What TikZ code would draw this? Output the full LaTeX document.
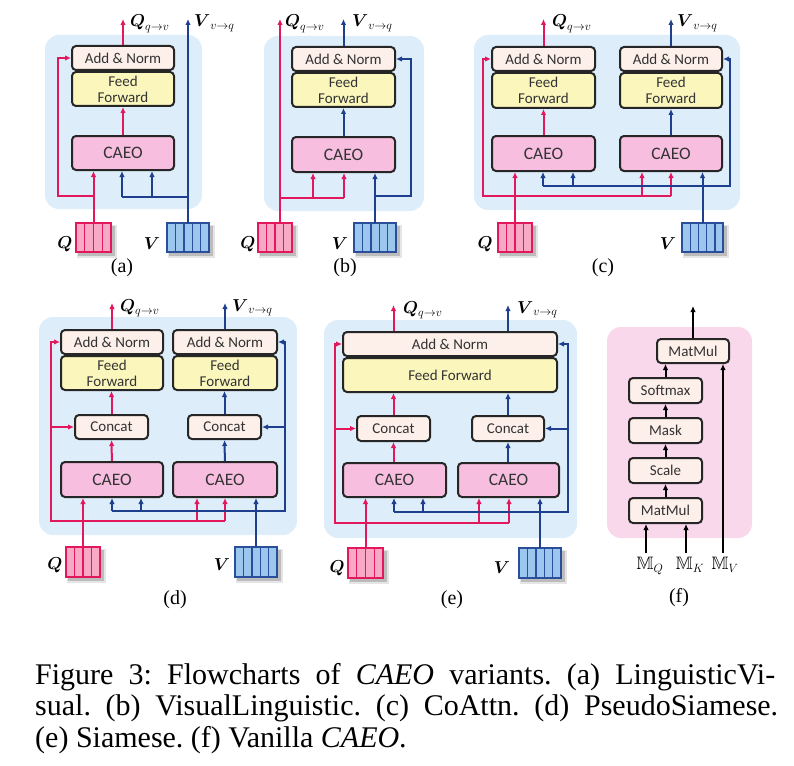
\documentclass[tikz,border=0pt]{standalone}
\usepackage{amsmath,amssymb}
\usepackage{fontspec}
\setmainfont{Liberation Serif}
\setsansfont{Carlito}
\usetikzlibrary{arrows.meta}
\definecolor{bgb}{HTML}{DEEDFA}
\definecolor{bgp}{HTML}{F9D8EC}
\definecolor{anf}{HTML}{FDEFE9}
\definecolor{fff}{HTML}{FAF6BC}
\definecolor{caf}{HTML}{F7BEE0}
\definecolor{myred}{HTML}{E3175B}
\definecolor{myblue}{HTML}{1E3F8E}
\definecolor{tokred}{HTML}{F7A9C5}
\definecolor{tokblue}{HTML}{9BC7EE}
\definecolor{tokbluel}{HTML}{2B4E9A}
\newcommand{\bx}[7]{\node[#6, minimum width={(#4)-(#2)}, minimum height={(#5)-(#3)}] (#1) at ({((#2)+(#4))/2},{((#3)+(#5))/2}) {#7};}
\newcommand{\tok}[8]{%
  \fill[black,opacity=.10] ({(#2)+1},{(#3)+2}) rectangle ({(#4)+6},{(#5)+6});
  \fill[black,opacity=.18] ({(#2)+2},{(#3)+3}) rectangle ({(#4)+3.5},{(#5)+3.5});
  \pgfmathsetmacro\tokw{((#4)-(#2))/(#6)}
  \foreach \i in {1,...,#6} {\draw[draw=#7, fill=#8, line width=1.4pt] ({(#2)+(\i-1)*\tokw},#3) rectangle ({(#2)+\i*\tokw},#5);}
  \node[inner sep=0pt, minimum width={(#4)-(#2)}, minimum height={(#5)-(#3)}] (#1) at ({((#2)+(#4))/2},{((#3)+(#5))/2}) {};
}
\tikzset{
  blk/.style={draw=black!85, line width=2pt, rounded corners=4pt, inner sep=0pt, text=black!80, font=\sffamily\fontsize{15}{16}\selectfont},
  anbox/.style={blk, fill=anf},
  ffbox/.style={blk, fill=fff, align=center},
  cabox/.style={blk, fill=caf, font=\sffamily\fontsize{17.5}{18}\selectfont},
  bgbox/.style={fill=bgb, rounded corners=14pt, inner sep=0pt},
  bgpink/.style={fill=bgp, rounded corners=14pt, inner sep=0pt},
  rl/.style={draw=myred, line width=2pt},
  ra/.style={rl, -{Latex[length=6pt,width=5.5pt]}},
  bl/.style={draw=myblue, line width=2pt},
  ba/.style={bl, -{Latex[length=6pt,width=5.5pt]}},
  ka/.style={draw=black, line width=2pt, -{Latex[length=6pt,width=5.5pt]}},
  lab/.style={font=\fontsize{18}{18}\selectfont, inner sep=0pt},
  mlab/.style={font=\fontsize{18}{18}\selectfont, inner sep=0pt},
  plab/.style={font=\fontsize{20}{20}\selectfont, inner sep=0pt},
  captxt/.style={font=\fontsize{30}{31}\selectfont, inner sep=0pt, anchor=base west},
}
\begin{document}
\frenchspacing
\begin{tikzpicture}[x=1pt,y=-1pt]
\useasboundingbox (0,0) rectangle (794,765);
% ================= (a)
\bx{bgA}{45}{35}{202}{209}{bgbox}{}
\bx{anA}{72}{46}{174}{70}{anbox}{Add \& Norm}
\bx{ffA}{72}{72}{174}{106}{ffbox}{Feed\\Forward}
\bx{caA}{72}{136}{174}{170}{cabox}{CAEO}
\tok{qtA}{76}{223}{111}{252}{4}{myred}{tokred}
\tok{vtA}{167}{223}{209}{252}{5}{tokbluel}{tokblue}
\node[lab] (QA) at (65,244) {$\boldsymbol{Q}$};
\node[lab] (VA) at (152,244) {$\boldsymbol{V}$};
\node[lab, anchor=base west] (qoA) at (130,27) {$\boldsymbol{Q}_{q\to v}$};
\node[lab, anchor=base west] (voA) at (194,27) {$\boldsymbol{V}_{v\to q}$};
\coordinate (topA) at (0,19);
\draw[ra] (anA.north) -- (anA.north |- topA);
\draw[ba] (vtA.north) -- (vtA.north |- topA);
\draw[ra] (caA) -- (ffA);
\draw[ra] (qtA.north) -- (qtA.north |- caA.south);
\coordinate (rA) at (58,196);
\draw[ra] (qtA.north |- rA) -- (rA) |- (anA.west);
\coordinate (bA1) at (122,197);
\coordinate (bA2) at (152,197);
\draw[bl] (vtA.north |- bA1) -- (bA1);
\draw[ba] (bA1) -- (bA1 |- caA.south);
\draw[ba] (bA2) -- (bA2 |- caA.south);
\node[plab] (pa) at (122,268) {(a)};
% ================= (b)
\bx{bgB}{264}{36}{424}{211}{bgbox}{}
\bx{anB}{292}{47}{395}{71}{anbox}{Add \& Norm}
\bx{ffB}{292}{73}{395}{107}{ffbox}{Feed\\Forward}
\bx{caB}{292}{137}{395}{172}{cabox}{CAEO}
\tok{qtB}{258}{223}{292}{252}{4}{myred}{tokred}
\tok{vtB}{354}{223}{396}{252}{5}{tokbluel}{tokblue}
\node[lab] (QB) at (248,244) {$\boldsymbol{Q}$};
\node[lab] (VB) at (340,244) {$\boldsymbol{V}$};
\node[lab, anchor=base west] (qoB) at (285,27) {$\boldsymbol{Q}_{q\to v}$};
\node[lab, anchor=base west] (voB) at (352,27) {$\boldsymbol{V}_{v\to q}$};
\coordinate (topB) at (0,19);
\draw[ra] ([xshift=5pt]qtB.north) -- ([xshift=5pt]qtB.north |- topB);
\coordinate (rB1) at (313,198);
\coordinate (rB2) at (344,198);
\draw[rl] ([xshift=5pt]qtB.north |- rB2) -- (rB2);
\draw[ra] (rB1) -- (rB1 |- caB.south);
\draw[ra] (rB2) -- (rB2 |- caB.south);
\draw[ba] (vtB.north) -- (vtB.north |- caB.south);
\coordinate (bB) at (411,196);
\draw[ba] (vtB.north |- bB) -- (bB) |- (anB.east);
\draw[ba] (caB) -- (ffB);
\draw[ba] (anB.north) -- (anB.north |- topB);
\node[plab] (pb) at (345,268) {(b)};
% ================= (c)
\bx{bgC}{474}{35}{740}{210}{bgbox}{}
\bx{anC1}{492}{47}{595}{71}{anbox}{Add \& Norm}
\bx{ffC1}{492}{73}{595}{108}{ffbox}{Feed\\Forward}
\bx{caC1}{492}{136}{595}{171}{cabox}{CAEO}
\bx{anC2}{620}{47}{722}{71}{anbox}{Add \& Norm}
\bx{ffC2}{620}{73}{722}{108}{ffbox}{Feed\\Forward}
\bx{caC2}{620}{136}{722}{171}{cabox}{CAEO}
\tok{qtC}{498}{223}{532}{252}{4}{myred}{tokred}
\tok{vtC}{682}{223}{723}{252}{5}{tokbluel}{tokblue}
\node[lab] (QC) at (485,244) {$\boldsymbol{Q}$};
\node[lab] (VC) at (668,244) {$\boldsymbol{V}$};
\node[lab, anchor=base west] (qoC) at (552,27) {$\boldsymbol{Q}_{q\to v}$};
\node[lab, anchor=base west] (voC) at (677,27) {$\boldsymbol{V}_{v\to q}$};
\coordinate (topC) at (0,19);
\draw[ra] (anC1.north) -- (anC1.north |- topC);
\draw[ba] (anC2.north) -- (anC2.north |- topC);
\draw[ra] (caC1) -- (ffC1);
\draw[ba] (caC2) -- (ffC2);
\draw[ra] (qtC.north) -- (qtC.north |- caC1.south);
\coordinate (rC0) at (483,196);
\coordinate (rC1) at (642,196);
\coordinate (rC2) at (671,196);
\draw[ra] (rC2) -- (rC0) |- (anC1.west);
\draw[ra] (rC1) -- (rC1 |- caC2.south);
\draw[ra] (rC2) -- (rC2 |- caC2.south);
\draw[ba] (vtC.north) -- (vtC.north |- caC2.south);
\coordinate (bC0) at (730,186);
\coordinate (bC1) at (543,186);
\coordinate (bC2) at (573,186);
\draw[ba] (bC1) -- (bC0) |- (anC2.east);
\draw[ba] (bC1) -- (bC1 |- caC1.south);
\draw[ba] (bC2) -- (bC2 |- caC1.south);
\node[plab] (pc) at (603,268) {(c)};
% ================= (d)
\bx{bgD}{39}{317}{297}{535}{bgbox}{}
\bx{anD1}{61}{330}{163}{354}{anbox}{Add \& Norm}
\bx{ffD1}{61}{356}{163}{390}{ffbox}{Feed\\Forward}
\bx{coD1}{75}{415}{148}{439}{anbox}{Concat}
\bx{caD1}{61}{462}{163}{497}{cabox}{CAEO}
\bx{anD2}{173}{330}{277}{354}{anbox}{Add \& Norm}
\bx{ffD2}{173}{356}{277}{390}{ffbox}{Feed\\Forward}
\bx{coD2}{188}{415}{261}{439}{anbox}{Concat}
\bx{caD2}{173}{462}{277}{497}{cabox}{CAEO}
\tok{qtD}{66}{547}{100}{577}{4}{myred}{tokred}
\tok{vtD}{235}{547}{277}{577}{5}{tokbluel}{tokblue}
\node[lab] (QD) at (55,565) {$\boldsymbol{Q}$};
\node[lab] (VD) at (222,565) {$\boldsymbol{V}$};
\node[lab, anchor=base west] (qoD) at (120,311) {$\boldsymbol{Q}_{q\to v}$};
\node[lab, anchor=base west] (voD) at (232,311) {$\boldsymbol{V}_{v\to q}$};
\coordinate (topD) at (0,303);
\draw[ra] (anD1.north) -- (anD1.north |- topD);
\draw[ba] (anD2.north) -- (anD2.north |- topD);
\draw[ra] (caD1) -- (coD1);
\draw[ra] (coD1) -- (coD1 |- ffD1.south);
\draw[ba] (caD2) -- (coD2);
\draw[ba] (coD2) -- (coD2 |- ffD2.south);
\draw[ra] (qtD.north) -- (qtD.north |- caD1.south);
\coordinate (rD0) at (51,521);
\coordinate (rD1) at (197,521);
\coordinate (rD2) at (225,521);
\draw[ra] (rD2) -- (rD0) |- (anD1.west);
\draw[ra] (rD0 |- coD1.west) -- (coD1.west);
\draw[ra] (rD1) -- (rD1 |- caD2.south);
\draw[ra] (rD2) -- (rD2 |- caD2.south);
\draw[ba] (vtD.north) -- (vtD.north |- caD2.south);
\coordinate (bD0) at (285,511);
\coordinate (bD1) at (112,511);
\coordinate (bD2) at (141,511);
\draw[ba] (bD1) -- (bD0) |- (anD2.east);
\draw[ba] (bD0 |- coD2.east) -- (coD2.east);
\draw[ba] (bD1) -- (bD1 |- caD1.south);
\draw[ba] (bD2) -- (bD2 |- caD1.south);
\node[plab] (pd) at (175,600) {(d)};
% ================= (e)
\bx{bgE}{324}{320}{577}{538}{bgbox}{}
\bx{anE}{343}{332}{557}{356}{anbox}{Add \& Norm}
\bx{ffE}{343}{358}{557}{392}{ffbox}{Feed Forward}
\bx{coE1}{357}{416}{430}{441}{anbox}{Concat}
\bx{coE2}{472}{416}{544}{441}{anbox}{Concat}
\bx{caE1}{343}{463}{446}{497}{cabox}{CAEO}
\bx{caE2}{458}{463}{559}{497}{cabox}{CAEO}
\tok{qtE}{348}{548}{383}{578}{4}{myred}{tokred}
\tok{vtE}{519}{548}{561}{578}{5}{tokbluel}{tokblue}
\node[lab] (QE) at (337,568) {$\boldsymbol{Q}$};
\node[lab] (VE) at (502,568) {$\boldsymbol{V}$};
\node[lab, anchor=base west] (qoE) at (403,313) {$\boldsymbol{Q}_{q\to v}$};
\node[lab, anchor=base west] (voE) at (517,313) {$\boldsymbol{V}_{v\to q}$};
\coordinate (topE) at (0,305);
\draw[ra] (coE1.north |- anE.north) -- (coE1.north |- topE);
\draw[ba] (coE2.north |- anE.north) -- (coE2.north |- topE);
\draw[ra] (coE1.south |- caE1.north) -- (coE1.south);
\draw[ra] (coE1.north) -- (coE1.north |- ffE.south);
\draw[ba] (coE2.south |- caE2.north) -- (coE2.south);
\draw[ba] (coE2.north) -- (coE2.north |- ffE.south);
\draw[ra] (qtE.north) -- (qtE.north |- caE1.south);
\coordinate (rE0) at (335,523);
\coordinate (rE1) at (479,523);
\coordinate (rE2) at (509,523);
\draw[ra] (rE2) -- (rE0) |- (anE.west);
\draw[ra] (rE0 |- coE1.west) -- (coE1.west);
\draw[ra] (rE1) -- (rE1 |- caE2.south);
\draw[ra] (rE2) -- (rE2 |- caE2.south);
\draw[ba] (vtE.north) -- (vtE.north |- caE2.south);
\coordinate (bE0) at (568,512);
\coordinate (bE1) at (394,512);
\coordinate (bE2) at (423,512);
\draw[ba] (bE1) -- (bE0) |- (anE.east);
\draw[ba] (bE0 |- coE2.east) -- (coE2.east);
\draw[ba] (bE1) -- (bE1 |- caE1.south);
\draw[ba] (bE2) -- (bE2 |- caE1.south);
\node[plab] (pe) at (452,600) {(e)};
% ================= (f)
\bx{bgF}{607}{327}{752}{538}{bgpink}{}
\bx{mm2}{657}{339}{729}{363}{anbox}{MatMul}
\bx{sm}{629}{378}{702}{403}{anbox}{Softmax}
\bx{mk}{629}{418}{702}{443}{anbox}{Mask}
\bx{sc}{629}{458}{702}{483}{anbox}{Scale}
\bx{mm1}{629}{498}{702}{523}{anbox}{MatMul}
\draw[ka] (mm1) -- (sc);
\draw[ka] (sc) -- (mk);
\draw[ka] (mk) -- (sm);
\draw[ka] (sm.north) -- (sm.north |- mm2.south);
\coordinate (topF) at (0,306);
\draw[ka] (mm2.north) -- (mm2.north |- topF);
\node[mlab, anchor=north] (mq) at (650,557) {$\mathbb{M}_Q$};
\node[mlab, anchor=north] (mkk) at (690,557) {$\mathbb{M}_K$};
\node[mlab, anchor=north] (mv) at (725,557) {$\mathbb{M}_V$};
\draw[ka, shorten <=4pt] ([xshift=-4pt]mq.north) -- ([xshift=-4pt]mq.north |- mm1.south);
\draw[ka, shorten <=4pt] ([xshift=-4pt]mkk.north) -- ([xshift=-4pt]mkk.north |- mm1.south);
\draw[ka, shorten <=4pt] ([xshift=-2pt]mv.north) -- ([xshift=-2pt]mv.north |- mm2.south);
\node[plab] (pf) at (679,598) {(f)};
% ================= caption
\node[captxt] (c1) at (35,684) {\makebox[740pt][s]{Figure 3: Flowcharts of \textit{CAEO} variants. (a) LinguisticVi-}};
\node[captxt] (c2) at (35,715) {\makebox[743pt][s]{sual. (b) VisualLinguistic. (c) CoAttn. (d) PseudoSiamese.}};
\node[captxt] (c3) at (35,747) {(e) Siamese. (f) Vanilla \textit{CAEO}.};
\end{tikzpicture}
\end{document}
